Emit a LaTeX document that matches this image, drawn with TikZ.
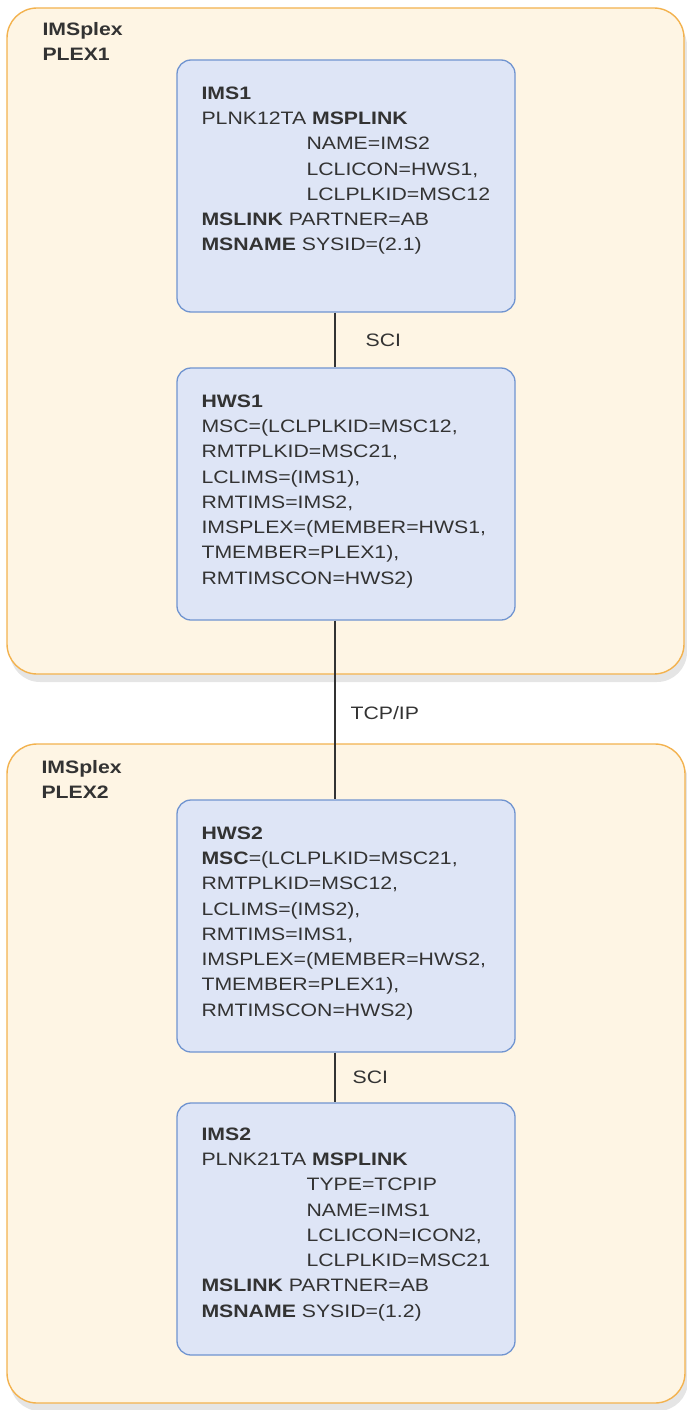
\documentclass[tikz,border=0pt]{standalone}
\usepackage{fontspec}
\setmainfont{Liberation Sans}[FakeStretch=1.18]
\usetikzlibrary{positioning,shadows}

\definecolor{plexfill}{HTML}{FEF5E4}
\definecolor{plexline}{HTML}{F3B24E}
\definecolor{boxfill}{HTML}{DEE5F6}
\definecolor{boxline}{HTML}{7094D0}
\definecolor{inkgray}{HTML}{333333}

\tikzset{
  plexbox/.style={draw=plexline, fill=plexfill, line width=1.4pt, rounded corners=30pt,
    drop shadow={shadow xshift=3pt, shadow yshift=-8pt, fill=black!10, opacity=1}},
  sysbox/.style={draw=boxline, fill=boxfill, line width=1.3pt, rounded corners=14pt,
    minimum width=338pt, minimum height=252pt, inner sep=0pt},
  boxtext/.style={anchor=north west, align=left, inner sep=0pt, text=inkgray,
    font=\fontsize{18}{25.3}\selectfont},
  link/.style={draw=inkgray, line width=1.2pt},
  linklabel/.style={inner sep=0pt, text=inkgray, font=\fontsize{18}{22}\selectfont}
}
\newcommand{\ind}{\hspace*{105pt}}

\begin{document}
\begin{tikzpicture}[x=1pt,y=-1pt]
  \useasboundingbox (0,0) rectangle (686,1410);

  % The two IMSplex containers
  \node[plexbox, minimum width=677pt, minimum height=666pt] (plex1) at (345.5,341) {};
  \node[plexbox, minimum width=678pt, minimum height=659pt] (plex2) at (346,1073.5) {};
  \node[boxtext] (plex1lbl) at ([xshift=36pt,yshift=-15pt]plex1.north west)
    {\textbf{IMSplex}\\\textbf{PLEX1}};
  \node[boxtext] (plex2lbl) at ([xshift=35pt,yshift=-17pt]plex2.north west)
    {\textbf{IMSplex}\\\textbf{PLEX2}};

  % Systems
  \node[sysbox] (ims1) at (346,186) {};
  \node[sysbox] (hws1) at (346,494) {};
  \node[sysbox] (hws2) at (346,926) {};
  \node[sysbox] (ims2) at (346,1229) {};

  \node[boxtext] (ims1txt) at ([xshift=25pt,yshift=-27pt]ims1.north west)
    {\textbf{IMS1}\\
     PLNK12TA \textbf{MSPLINK}\\
     \ind NAME=IMS2\\
     \ind LCLICON=HWS1,\\
     \ind LCLPLKID=MSC12\\
     \textbf{MSLINK} PARTNER=AB\\
     \textbf{MSNAME} SYSID=(2.1)};
  \node[boxtext] (hws1txt) at ([xshift=25pt,yshift=-27pt]hws1.north west)
    {\textbf{HWS1}\\
     MSC=(LCLPLKID=MSC12,\\
     RMTPLKID=MSC21,\\
     LCLIMS=(IMS1),\\
     RMTIMS=IMS2,\\
     IMSPLEX=(MEMBER=HWS1,\\
     TMEMBER=PLEX1),\\
     RMTIMSCON=HWS2)};
  \node[boxtext] (hws2txt) at ([xshift=25pt,yshift=-27pt]hws2.north west)
    {\textbf{HWS2}\\
     \textbf{MSC}=(LCLPLKID=MSC21,\\
     RMTPLKID=MSC12,\\
     LCLIMS=(IMS2),\\
     RMTIMS=IMS1,\\
     IMSPLEX=(MEMBER=HWS2,\\
     TMEMBER=PLEX1),\\
     RMTIMSCON=HWS2)};
  \node[boxtext] (ims2txt) at ([xshift=25pt,yshift=-25pt]ims2.north west)
    {\textbf{IMS2}\\
     PLNK21TA \textbf{MSPLINK}\\
     \ind TYPE=TCPIP\\
     \ind NAME=IMS1\\
     \ind LCLICON=ICON2,\\
     \ind LCLPLKID=MSC21\\
     \textbf{MSLINK} PARTNER=AB\\
     \textbf{MSNAME} SYSID=(1.2)};

  % Connections
  \draw[link] ([xshift=-11pt]ims1.south) -- ([xshift=-11pt]hws1.north)
    node[midway, right=30pt, linklabel] (sci1) {SCI};
  \draw[link] ([xshift=-11pt]hws1.south) -- ([xshift=-11pt]hws2.north)
    node[midway, right=15pt, linklabel, yshift=-3pt] (tcpip) {TCP/IP};
  \draw[link] ([xshift=-11pt]hws2.south) -- ([xshift=-11pt]ims2.north)
    node[midway, right=17pt, linklabel] (sci2) {SCI};
\end{tikzpicture}
\end{document}
